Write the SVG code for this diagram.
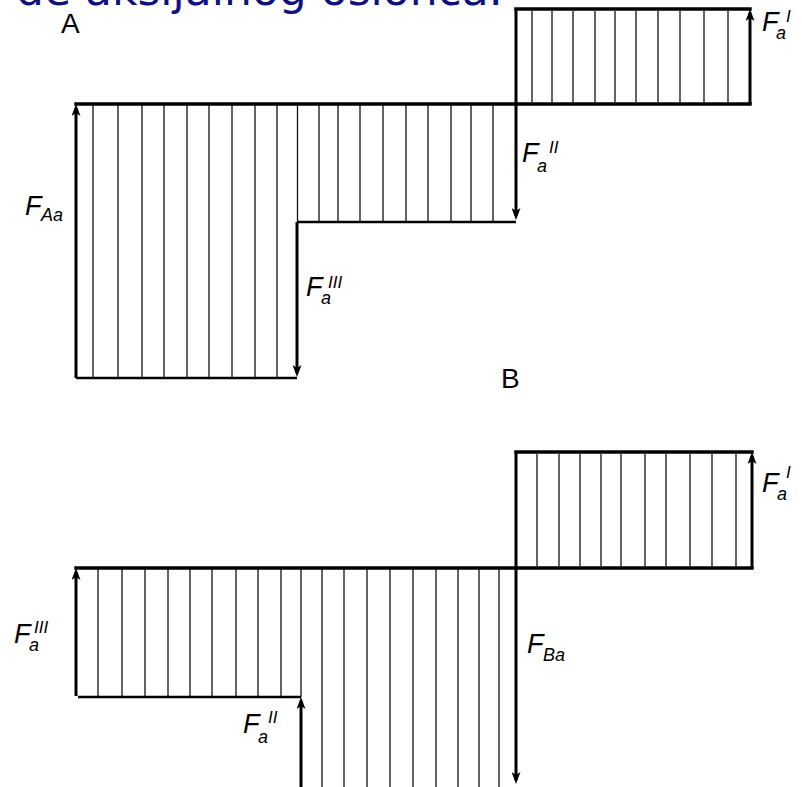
<svg xmlns="http://www.w3.org/2000/svg" width="802" height="787" viewBox="0 0 802 787">
<style>
.thick{stroke:#000;stroke-width:3.5;fill:none;stroke-linecap:square}
.mid{stroke:#000;stroke-width:2.5;fill:none}
.arr{stroke:#000;stroke-width:3;fill:none;marker-end:url(#ah)}
.hatch{stroke:#111;stroke-width:1.3;fill:none}
.lbl{font-family:"Liberation Sans",Arial,sans-serif;font-style:italic;fill:#000}
.F{font-size:27px}
.sub{font-size:18px}
.sup{font-size:17px}
.big{font-family:"Liberation Sans",Arial,sans-serif;font-size:28px;fill:#000}
.title{font-family:"DejaVu Sans",Verdana,sans-serif;font-size:44px;fill:#10107f}
</style>
<defs>
<marker id="ah" viewBox="0 0 12 9" refX="8" refY="4.5" markerWidth="12" markerHeight="9" orient="auto" markerUnits="userSpaceOnUse">
<path d="M0,0 L12,4.5 L0,9 L3,4.5 z" fill="#000"/>
</marker>
</defs>
<rect width="802" height="787" fill="#fff"/>
<g id="title"><text class="title" x="16" y="5">de aksijalnog oslonca.</text></g>

<g id="diagramA">
<g id="hatchA">
<path class="hatch" d="M532,11V102M552,11V102M573,11V102M595,11V102M615,11V102M636,11V102M658,11V102M680,11V102M704,11V102M728,11V102"/>
<path class="hatch" d="M93,104V378M118,104V378M142,104V378M164,104V378M187,104V378M209,104V378M232,104V378M255,104V378M277,104V378M297.5,104V222"/>
<path class="hatch" d="M319,104V222M338,104V222M360,104V222M383,104V222M406,104V222M428,104V222M451,104V222M471,104V222M493,104V222"/>
</g>
<g id="outlineA">
<path class="thick" d="M76,104H750"/>
<path class="thick" d="M516,9H750"/>
<path class="mid" d="M297,222H516"/>
<path class="mid" d="M76,378H297"/>
</g>
<g id="arrowsA">
<path class="arr" d="M750,104V13"/>
<path class="arr" d="M516,9V216"/>
<path class="arr" d="M297,222V373"/>
<path class="arr" d="M76,378V108"/>
</g>
<g id="labelsA">
<text class="big" x="61" y="33">A</text>
<text class="lbl" x="762"><tspan class="F" y="31">F</tspan><tspan class="sub" x="776" y="39">a</tspan><tspan class="sup" x="786" y="22">I</tspan></text>
<text class="lbl" x="522"><tspan class="F" y="162">F</tspan><tspan class="sub" x="537" y="172">a</tspan><tspan class="sup" x="549" y="153">II</tspan></text>
<text class="lbl" x="25"><tspan class="F" y="215">F</tspan><tspan class="sub" x="41" y="221">Aa</tspan></text>
<text class="lbl" x="306"><tspan class="F" y="296">F</tspan><tspan class="sub" x="321" y="304">a</tspan><tspan class="sup" x="328" y="288">III</tspan></text>
<text class="big" x="501" y="388">B</text>
</g>
</g>

<g id="diagramB">
<g id="hatchB">
<path class="hatch" d="M537,454V566M559,454V566M580,454V566M601,454V566M621,454V566M645,454V566M666,454V566M690,454V566M712,454V566M736,454V566"/>
<path class="hatch" d="M98,568V696M122,568V696M145,568V696M168,568V696M190,568V696M212,568V696M236,568V696M258,568V696M281,568V696M301,568V697"/>
<path class="hatch" d="M322,568V787M344,568V787M367,568V787M390,568V787M413,568V787M436,568V787M458,568V787M479,568V787M499,568V787"/>
</g>
<g id="outlineB">
<path class="thick" d="M76,568H752"/>
<path class="thick" d="M516,452H752"/>
<path class="mid" d="M78,697H301"/>
</g>
<g id="arrowsB">
<path class="arr" d="M752,568V456"/>
<path class="arr" d="M516,452V780"/>
<path class="arr" d="M76,696V572"/>
<path class="arr" d="M301,787V701"/>
</g>
<g id="labelsB">
<text class="lbl" x="762"><tspan class="F" y="492">F</tspan><tspan class="sub" x="777" y="500">a</tspan><tspan class="sup" x="786" y="478">I</tspan></text>
<text class="lbl" x="14"><tspan class="F" y="643">F</tspan><tspan class="sub" x="29" y="651">a</tspan><tspan class="sup" x="34" y="633">III</tspan></text>
<text class="lbl" x="243"><tspan class="F" y="733">F</tspan><tspan class="sub" x="258" y="743">a</tspan><tspan class="sup" x="268" y="723">II</tspan></text>
<text class="lbl" x="527"><tspan class="F" y="653">F</tspan><tspan class="sub" x="543" y="661">Ba</tspan></text>
</g>
</g>
</svg>
